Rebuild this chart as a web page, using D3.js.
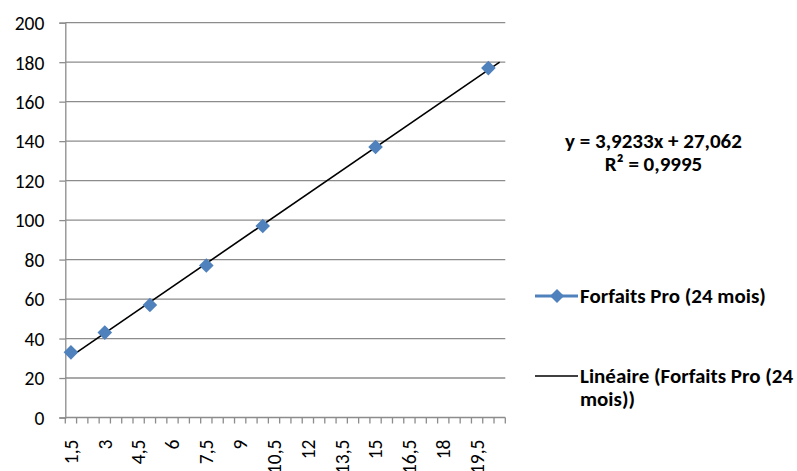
<!DOCTYPE html>
<html>
<head>
<meta charset="utf-8">
<script src="https://cdn.jsdelivr.net/npm/d3@7/dist/d3.min.js"></script>
<style>
  html, body { margin: 0; padding: 0; background: #fff; }
  svg { display: block; }
  text { font-family: Carlito, Calibri, Lato, "Open Sans", sans-serif; fill: #000; }
</style>
</head>
<body>
<svg id="chart" width="797" height="471"></svg>
<script>
// Category labels of the x axis (Excel line chart, category axis)
const categories = ["1,5","2","2,5","3","3,5","4","4,5","5","5,5","6","6,5","7","7,5","8","8,5","9","9,5","10","10,5","11","11,5","12","12,5","13","13,5","14","14,5","15","15,5","16","16,5","17","17,5","18","18,5","19","19,5","20","20,5"];
// Series "Forfaits Pro (24 mois)": values at given categories (others empty)
const pointCategories = ["1,5","3","5","7,5","10","15","20"];
const pointValues = [33, 43, 57, 77, 97, 137, 177];
// Y axis ticks
const yTicks = [0, 20, 40, 60, 80, 100, 120, 140, 160, 180, 200];
// Trendline (linear, x = category index), with forward forecast of 1 period
const trendSlope = 3.9233;
const trendIntercept = 27.062;
const trendRange = [1, 39];
const equationLines = ["y = 3,9233x + 27,062", "R\u00B2 = 0,9995"];
const legendLabels = ["Forfaits Pro (24 mois)", ["Lin\u00E9aire (Forfaits Pro (24", "mois))"]];

(function () {
const svg = d3.select("#chart");
const pLeft = 65.3, pRight = 505.3, pTop = 22.7, pBottom = 417.5;
const gridColor = "#8c8c8c";
const blue = "#4F81BD";
const tickFont = 19.5, boldFont = 21;

const x = d3.scaleLinear().domain([0.5, categories.length + 0.5]).range([pLeft, pRight]);
const y = d3.scaleLinear().domain([0, 200]).range([pBottom, pTop]);

// gridlines
svg.append("g").selectAll("line").data(yTicks.filter(v => v > 0)).join("line")
  .attr("x1", pLeft).attr("x2", pRight)
  .attr("y1", d => y(d)).attr("y2", d => y(d))
  .attr("stroke", gridColor).attr("stroke-width", 1.3);

// y axis
const yAxis = svg.append("g").attr("transform", `translate(${pLeft},0)`)
  .call(d3.axisLeft(y).tickValues(yTicks).tickSize(6).tickPadding(15).tickFormat(d3.format("d")));
yAxis.attr("font-family", null).attr("font-size", null);
yAxis.select(".domain").attr("stroke", gridColor).attr("stroke-width", 1.3);
yAxis.selectAll(".tick line").attr("stroke", gridColor).attr("stroke-width", 1.3);
yAxis.selectAll(".tick text").attr("font-size", tickFont).attr("dy", "0.35em");

// x axis line and ticks (at category boundaries)
const boundaries = d3.range(0, categories.length + 1).map(i => i + 0.5);
svg.append("line").attr("x1", pLeft).attr("x2", pRight).attr("y1", pBottom).attr("y2", pBottom)
  .attr("stroke", gridColor).attr("stroke-width", 1.3);
svg.append("g").selectAll("line").data(boundaries).join("line")
  .attr("x1", d => x(d)).attr("x2", d => x(d))
  .attr("y1", pBottom).attr("y2", pBottom + 6)
  .attr("stroke", gridColor).attr("stroke-width", 1.3);

// x labels every 3rd category, rotated
svg.append("g").selectAll("text")
  .data(categories.map((c, i) => ({c, i: i + 1})).filter(d => (d.i - 1) % 3 === 0))
  .join("text")
  .attr("transform", d => `translate(${x(d.i)},${pBottom + 22}) rotate(-90)`)
  .attr("text-anchor", "end")
  .attr("dy", "0.35em")
  .attr("font-size", tickFont)
  .text(d => d.c);

// trendline
svg.append("line")
  .attr("x1", x(trendRange[0])).attr("y1", y(trendSlope * trendRange[0] + trendIntercept))
  .attr("x2", x(trendRange[1])).attr("y2", y(trendSlope * trendRange[1] + trendIntercept))
  .attr("stroke", "#000").attr("stroke-width", 1.6);

// markers (diamonds)
const diamond = (cx, cy, r) => `M${cx},${cy - r}L${cx + r},${cy}L${cx},${cy + r}L${cx - r},${cy}Z`;
svg.append("g").selectAll("path")
  .data(pointValues.map((v, i) => ({v, k: categories.indexOf(pointCategories[i]) + 1})))
  .join("path")
  .attr("d", d => diamond(x(d.k), y(d.v), 7.3))
  .attr("fill", blue);

// equation
svg.append("g").selectAll("text").data(equationLines).join("text")
  .attr("x", 653.5).attr("y", (d, i) => 141 + i * 23)
  .attr("dy", "0.35em")
  .attr("text-anchor", "middle").attr("font-weight", "bold").attr("font-size", boldFont)
  .text(d => d);

// legend
const lg = svg.append("g");
lg.append("line").attr("x1", 535).attr("x2", 578).attr("y1", 296).attr("y2", 296)
  .attr("stroke", blue).attr("stroke-width", 3);
lg.append("path").attr("d", diamond(557, 296, 7)).attr("fill", blue);
lg.append("text").attr("x", 580).attr("y", 296).attr("dy", "0.35em")
  .attr("font-weight", "bold").attr("font-size", boldFont).text(legendLabels[0]);
lg.append("line").attr("x1", 535).attr("x2", 578).attr("y1", 376).attr("y2", 376)
  .attr("stroke", "#000").attr("stroke-width", 1.6);
lg.append("g").selectAll("text").data(legendLabels[1]).join("text")
  .attr("x", 580).attr("y", (d, i) => 376 + i * 23).attr("dy", "0.35em")
  .attr("font-weight", "bold").attr("font-size", boldFont).text(d => d);
})();
</script>
</body>
</html>
